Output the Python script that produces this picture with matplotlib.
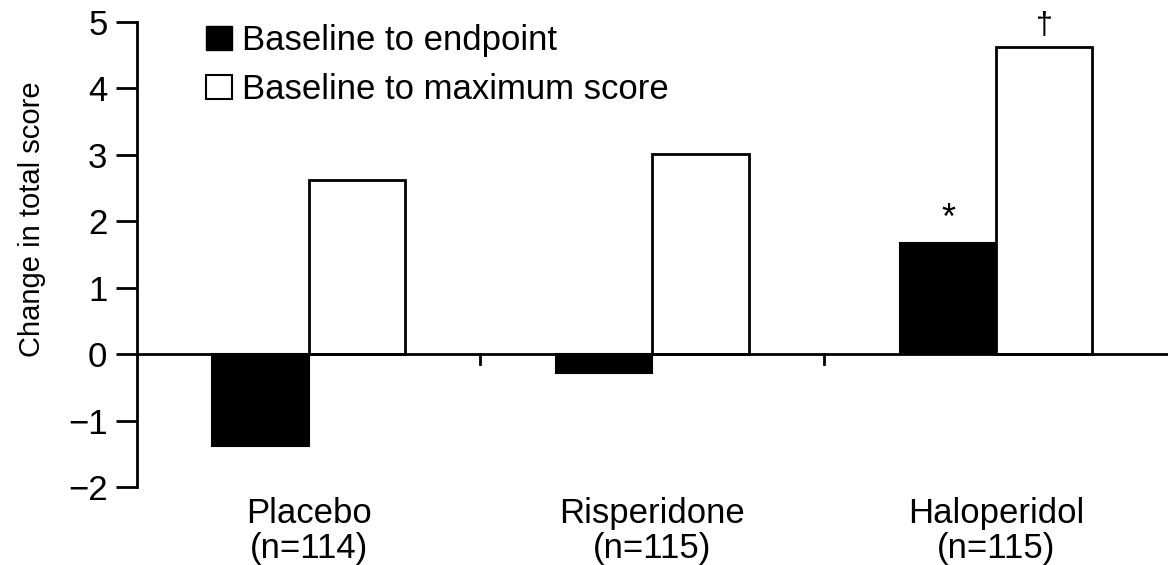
import matplotlib
matplotlib.use('Agg')
import matplotlib.pyplot as plt
import numpy as np
from matplotlib.patches import Patch

plt.rcParams['font.family'] = ['Liberation Sans', 'DejaVu Sans']

# data
groups = ["Placebo\n(n=114)", "Risperidone\n(n=115)", "Haloperidol\n(n=115)"]
endpoint = [-1.38, -0.28, 1.67]
maximum = [2.62, 3.01, 4.62]
series_names = ["Baseline to endpoint", "Baseline to maximum score"]

fig = plt.figure(figsize=(11.68, 5.65), dpi=100)
ax = fig.add_axes([0.117, 0.138, 0.883, 0.823])

x = np.arange(len(groups))
w = 0.28
ax.bar(x - w / 2, endpoint, w, color='black', edgecolor='black', linewidth=1.5)
ax.bar(x + w / 2, maximum, w, color='white', edgecolor='black', linewidth=2)

# significance marks
ax.text(x[2] - w / 2, endpoint[2] + 0.1, "*", ha='center', va='bottom', fontsize=26)
ax.text(x[2] + w / 2, maximum[2] + 0.1, "\u2020", ha='center', va='bottom', fontsize=22)

ax.set_xlim(-0.5, 2.5)
ax.set_ylim(-2, 5)
ax.axhline(0, color='black', linewidth=2, zorder=3)
# group separators on the zero line
for sep in [0.5, 1.5]:
    ax.plot([sep, sep], [0, -0.15], color='black', linewidth=2, clip_on=False)

for s in ['top', 'right', 'bottom']:
    ax.spines[s].set_visible(False)
ax.spines['left'].set_linewidth(2)

ax.set_yticks(range(-2, 6))
ax.set_yticklabels([str(v).replace('-', '\u2212') for v in range(-2, 6)])
ax.tick_params(axis='y', length=15, width=2, labelsize=25, pad=6)
ax.set_xticks(x)
ax.set_xticklabels(groups, linespacing=1.1)
ax.tick_params(axis='x', length=0, labelsize=25, pad=7)
ax.set_ylabel("Change in total score", fontsize=21)
ax.yaxis.set_label_coords(-0.088, 0.575)

handles = [Patch(facecolor='black', edgecolor='black'),
           Patch(facecolor='white', edgecolor='black', linewidth=1.5)]
ax.legend(handles, series_names, loc='upper left', bbox_to_anchor=(0.067, 0.995),
          frameon=False, fontsize=25, handlelength=0.75, handleheight=0.7,
          handletextpad=0.3, labelspacing=0.45, borderpad=0, borderaxespad=0)

plt.savefig("out.png", dpi=100)
plt.close()
